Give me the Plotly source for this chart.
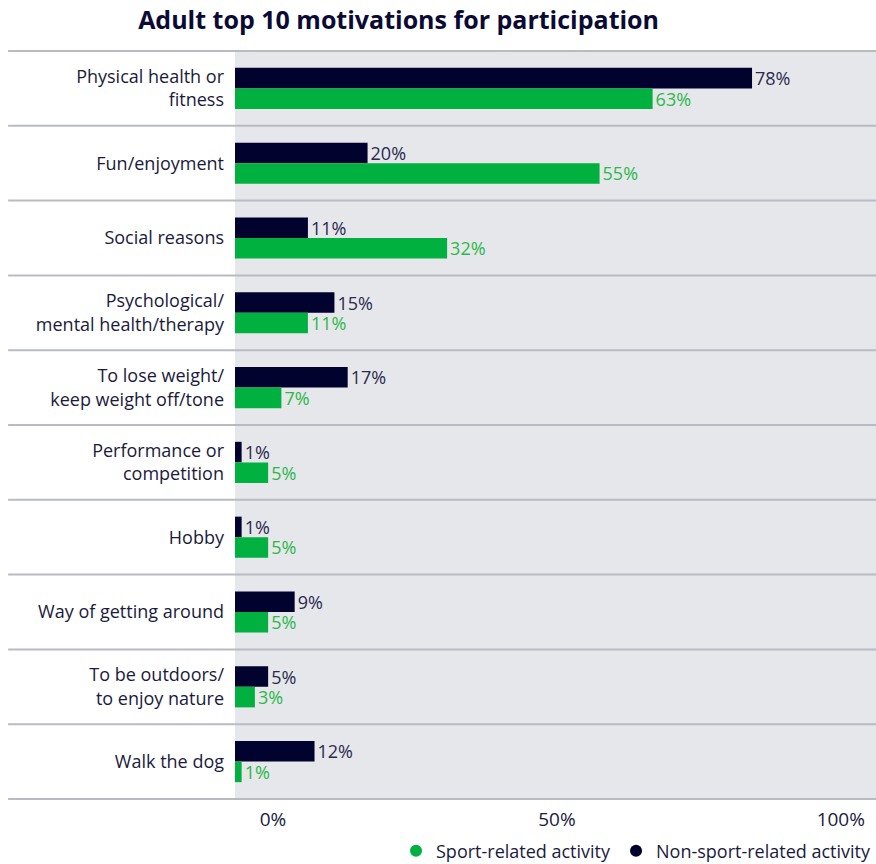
import plotly.graph_objects as go

categories = [
    "Physical health or<br>fitness",
    "Fun/enjoyment",
    "Social reasons",
    "Psychological/<br>mental health/therapy",
    "To lose weight/<br>keep weight off/tone",
    "Performance or<br>competition",
    "Hobby",
    "Way of getting around",
    "To be outdoors/<br>to enjoy nature",
    "Walk the dog",
]
non_sport = [78, 20, 11, 15, 17, 1, 1, 9, 5, 12]
sport = [63, 55, 32, 11, 7, 5, 5, 5, 3, 1]
tick_vals = [0, 50, 100]
tick_text = ["0%", "50%", "100%"]

NAVY = "#02022f"
GREEN = "#00b140"
FONT = "'Open Sans', Roboto, sans-serif"
TXT = "#1a1a3c"

fig = go.Figure()
fig.add_trace(go.Bar(
    y=categories, x=non_sport, orientation="h", marker=dict(color=NAVY, line=dict(width=0)),
    text=[f"{v}%" for v in non_sport], textposition="outside", cliponaxis=False, constraintext="none",
    textfont=dict(color="#2a2a50", size=18, family=FONT), showlegend=False, hoverinfo="skip",
))
fig.add_trace(go.Bar(
    y=categories, x=sport, orientation="h", marker=dict(color=GREEN, line=dict(width=0)),
    text=[f"{v}%" for v in sport], textposition="outside", cliponaxis=False, constraintext="none",
    textfont=dict(color="#2db84c", size=18, family=FONT), showlegend=False, hoverinfo="skip",
))
# legend entries
fig.add_trace(go.Scatter(x=[None], y=[None], mode="markers", name="Sport-related activity",
                         marker=dict(color=GREEN, size=14, symbol="circle"), xaxis="x2"))
fig.add_trace(go.Scatter(x=[None], y=[None], mode="markers", name="Non-sport-related activity",
                         marker=dict(color=NAVY, size=14, symbol="circle"), xaxis="x2"))

shapes = []
n = len(categories)
for i in range(n + 1):
    yv = i - 0.5
    shapes.append(dict(type="line", xref="paper", yref="y", x0=-0.354, x1=1, y0=yv, y1=yv,
                       line=dict(color="#b9bac4", width=2), layer="above"))

fig.update_layout(
    width=876, height=864,
    margin=dict(l=235, r=0, t=50, b=64, autoexpand=False),
    paper_bgcolor="white", plot_bgcolor="#e6e7ea",
    barmode="group", bargap=0.45, bargroupgap=0,
    font=dict(family=FONT, size=18, color=TXT),
    title=dict(text="<b>Adult top 10 motivations for participation</b>", x=0.455, xanchor="center",
               y=0.977, yanchor="middle", font=dict(size=25, color="#0a0a35", family=FONT)),
    xaxis=dict(range=[0, 96.7], showticklabels=False, showgrid=False, zeroline=False, fixedrange=True),
    xaxis2=dict(overlaying="x", side="bottom", range=[-6.69, 106.2], tickvals=tick_vals, ticktext=tick_text,
                showgrid=False, zeroline=False, ticks="", ticklabelstandoff=6,
                tickfont=dict(size=19, color=TXT, family=FONT)),
    yaxis=dict(autorange="reversed", showgrid=False, zeroline=False, ticks="", ticklabelstandoff=10,
               tickfont=dict(size=18, color=TXT, family=FONT)),
    legend=dict(orientation="h", xanchor="right", x=1.0, yanchor="middle", y=-0.068,
                font=dict(size=18, color=TXT, family=FONT), itemsizing="constant",
                bgcolor="rgba(0,0,0,0)", itemwidth=30),
    shapes=shapes,
)

fig.write_html("out.html", config={"displayModeBar": False},
               post_script="document.body.style.margin='0';document.body.style.overflow='hidden';")
